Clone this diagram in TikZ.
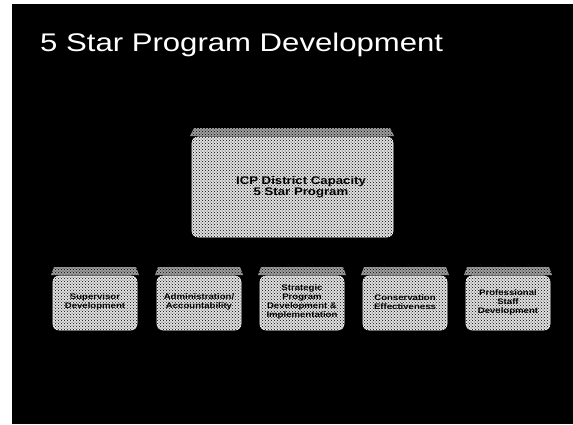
\documentclass[tikz,border=0pt]{standalone}
\usepackage{fontspec}
\setmainfont{Liberation Sans}
\newfontfamily\widefont[FakeStretch=1.2]{Liberation Sans}
\newfontfamily\titlefont[FakeStretch=1.22]{Liberation Sans}
\usetikzlibrary{patterns}
\begin{document}
\begin{tikzpicture}[x=1pt,y=-1pt,
  boxstyle/.style={draw=white, line width=0.6pt, rounded corners=6pt, fill=white!88!black,
     postaction={pattern=crosshatch dots, pattern color=black}},
  bevel/.style={fill=white!62!black, postaction={pattern=crosshatch dots, pattern color=black}},
  lbl/.style={align=center, font=\widefont\bfseries\fontsize{8}{9}\selectfont, text=black, inner sep=0pt},
  title/.style={anchor=base west, text=white, inner sep=0pt, font=\titlefont\fontsize{25.5}{30}\selectfont}]
\useasboundingbox (0,0) rectangle (573,424);
\fill[white] (0,0) rectangle (573,424);
\fill[black] (12,4) rectangle (573,424);
\node[title] (t) at (40,51) {5 Star Program Development};
% central box
\fill[bevel] (190,136) -- (194,128) -- (390,128) -- (394,136) -- cycle;
\draw[boxstyle] (192,137) rectangle (393,237);
\node[lbl, font=\widefont\bfseries\fontsize{11}{11}\selectfont] (c) at (301,187) {ICP District Capacity\\5 Star Program};
% bottom boxes
\foreach \cx/\txt/\nm in {95/{Supervisor\\Development}/b1,
                        199/{Administration/\\Accountability}/b2,
                        302/{Strategic\\Program\\Development \&\\Implementation}/b3,
                        405/{Conservation\\Effectiveness}/b4,
                        508/{Professional\\Staff\\Development}/b5}{
  \fill[bevel] (\cx-44,275) -- (\cx-41,267) -- (\cx+41,267) -- (\cx+44,275) -- cycle;
  \draw[boxstyle] (\cx-42,276) rectangle (\cx+42,330);
  \node[lbl] (\nm) at (\cx,302) {\txt};
}
\end{tikzpicture}
\end{document}
